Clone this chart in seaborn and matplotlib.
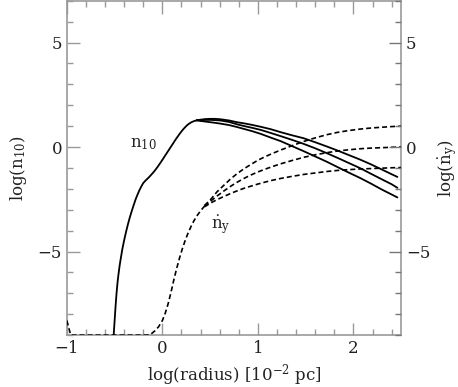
import matplotlib
matplotlib.use("Agg")
import matplotlib.pyplot as plt
import seaborn as sns
import numpy as np
from matplotlib.ticker import MultipleLocator

# n_10 curves (solid): shared rising part, then three branches
x_rise = [-0.53, -0.51, -0.50, -0.49, -0.48, -0.47, -0.46, -0.45, -0.44, -0.42,
          -0.40, -0.38, -0.36, -0.34, -0.32, -0.30, -0.28, -0.26, -0.24, -0.22,
          -0.20, -0.18, -0.16, -0.14, -0.12, -0.10, -0.08, -0.06, -0.04, -0.02,
          0.00, 0.02, 0.04, 0.06, 0.08, 0.10, 0.12, 0.14, 0.16, 0.18,
          0.20, 0.22, 0.24, 0.26, 0.28, 0.30, 0.33, 0.36]
n_rise = [-9.9, -9.0, -8.3, -7.6, -7.0, -6.5, -6.1, -5.75, -5.45, -4.9,
          -4.45, -4.05, -3.68, -3.35, -3.05, -2.77, -2.50, -2.27, -2.06, -1.88,
          -1.72, -1.62, -1.53, -1.44, -1.34, -1.24, -1.13, -1.01, -0.88, -0.75,
          -0.61, -0.47, -0.33, -0.19, -0.05, 0.09, 0.23, 0.37, 0.50, 0.63,
          0.75, 0.86, 0.96, 1.05, 1.12, 1.18, 1.24, 1.28]
x_branch = [0.36, 0.40, 0.45, 0.50, 0.55, 0.61, 0.70, 0.78, 0.86, 0.94, 1.03, 1.13,
            1.24, 1.36, 1.48, 1.60, 1.72, 1.83, 1.95, 2.07, 2.18, 2.30, 2.40, 2.46]
n_top = [1.28, 1.31, 1.34, 1.35, 1.35, 1.33, 1.27, 1.19, 1.13, 1.06, 0.97, 0.86,
         0.71, 0.56, 0.42, 0.23, 0.03, -0.16, -0.38, -0.60, -0.82, -1.08, -1.30, -1.43]
n_mid = [1.28, 1.28, 1.30, 1.30, 1.29, 1.27, 1.20, 1.09, 1.00, 0.92, 0.82, 0.68,
         0.52, 0.34, 0.15, -0.06, -0.29, -0.51, -0.76, -1.01, -1.27, -1.55, -1.78, -1.95]
n_bot = [1.28, 1.25, 1.22, 1.19, 1.16, 1.12, 1.05, 0.96, 0.86, 0.76, 0.63, 0.46,
         0.28, 0.04, -0.20, -0.45, -0.70, -0.95, -1.22, -1.48, -1.74, -2.04, -2.27, -2.41]

# ndot_y curves (dashed): shared rising part, then three branches
x_drise = [-1.00, -0.96, -0.90, -0.70, -0.50, -0.30, -0.16, -0.12, -0.08, -0.04,
           0.00, 0.03, 0.06, 0.09, 0.12, 0.15, 0.18, 0.21, 0.24, 0.27,
           0.30, 0.33, 0.36, 0.40, 0.44]
d_rise = [-8.3, -9.0, -9.0, -9.0, -9.0, -9.0, -9.0, -8.95, -8.80, -8.60,
          -8.30, -7.95, -7.50, -6.95, -6.35, -5.80, -5.30, -4.85, -4.45, -4.10,
          -3.80, -3.53, -3.30, -3.05, -2.83]
x_dbranch = [0.44, 0.48, 0.52, 0.57, 0.65, 0.72, 0.78, 0.85, 0.92, 1.00, 1.08, 1.16,
             1.24, 1.36, 1.48, 1.60, 1.72, 1.83, 1.95, 2.07, 2.18, 2.30, 2.40, 2.50]
d_top = [-2.80, -2.62, -2.43, -2.15, -1.80, -1.50, -1.28, -1.05, -0.85, -0.63, -0.45, -0.29,
         -0.14, 0.07, 0.27, 0.44, 0.59, 0.70, 0.79, 0.86, 0.91, 0.95, 0.98, 1.00]
d_mid = [-2.83, -2.68, -2.53, -2.35, -2.08, -1.86, -1.69, -1.51, -1.35, -1.19, -1.05, -0.92,
         -0.80, -0.64, -0.49, -0.37, -0.27, -0.19, -0.13, -0.08, -0.05, -0.03, -0.01, 0.00]
d_bot = [-2.86, -2.75, -2.64, -2.52, -2.35, -2.21, -2.10, -1.98, -1.88, -1.77, -1.67, -1.58,
         -1.50, -1.40, -1.31, -1.24, -1.17, -1.12, -1.08, -1.05, -1.03, -1.01, -0.99, -0.98]

sns.set_theme(style="ticks")
plt.rcParams['font.family'] = ['DejaVu Serif']
plt.rcParams['mathtext.fontset'] = 'dejavuserif'

fig = plt.figure(figsize=(4.58, 3.87), dpi=100)
ax = fig.add_axes([0.146, 0.134, 0.730, 0.864])

# courbes pleines (n_10)
sns.lineplot(x=x_rise, y=n_rise, ax=ax, color='black', linewidth=1.3, zorder=3)
for yy in [n_top, n_mid, n_bot]:
    sns.lineplot(x=x_branch, y=yy, ax=ax, color='black', linewidth=1.3, zorder=3)

# courbes en tirets (ndot_y)
dash = (0, (3, 1.8))
sns.lineplot(x=x_drise, y=d_rise, ax=ax, color='black', linewidth=1.2, linestyle=dash, zorder=3)
for yy in [d_top, d_mid, d_bot]:
    sns.lineplot(x=x_dbranch, y=yy, ax=ax, color='black', linewidth=1.2, linestyle=dash, zorder=3)

ax.set_xlim(-1, 2.5)
ax.set_ylim(-9, 7)
ax.xaxis.set_major_locator(MultipleLocator(1))
ax.xaxis.set_minor_locator(MultipleLocator(0.2))
ax.yaxis.set_major_locator(MultipleLocator(5))
ax.yaxis.set_minor_locator(MultipleLocator(1))
ax.tick_params(which='both', direction='in', top=True, right=False, color='#999999',
               labelsize=12, labelcolor='#222222', width=1)
ax.tick_params(which='major', length=9)
ax.tick_params(which='minor', length=4.5)
for s in ax.spines.values():
    s.set_color('#999999')
    s.set_linewidth(1.2)

ax.set_xlabel(r'log(radius) [10$^{-2}$ pc]', fontsize=12, color='#222222')
ax.set_ylabel(r'log(n$_{10}$)', fontsize=12, color='#222222', labelpad=6)

ax2 = ax.twinx()
ax2.set_ylim(-9, 7)
ax2.yaxis.set_major_locator(MultipleLocator(5))
ax2.yaxis.set_minor_locator(MultipleLocator(1))
ax2.tick_params(which='both', direction='in', color='#777777', labelsize=12,
                labelcolor='#222222', width=1)
ax2.tick_params(which='major', length=9)
ax2.tick_params(which='minor', length=4.5)
for s in ax2.spines.values():
    s.set_visible(False)
ax2.set_ylabel(r'log($\dot{\rm n}_{\rm y}$)', fontsize=12, color='#222222')

# étiquettes des courbes
ax.text(-0.34, 0.0, r'n$_{10}$', fontsize=12, color='#222222')
ax.text(0.51, -3.9, r'$\dot{\rm n}_{\rm y}$', fontsize=12, color='#222222')

fig.savefig('out.png', dpi=100)
